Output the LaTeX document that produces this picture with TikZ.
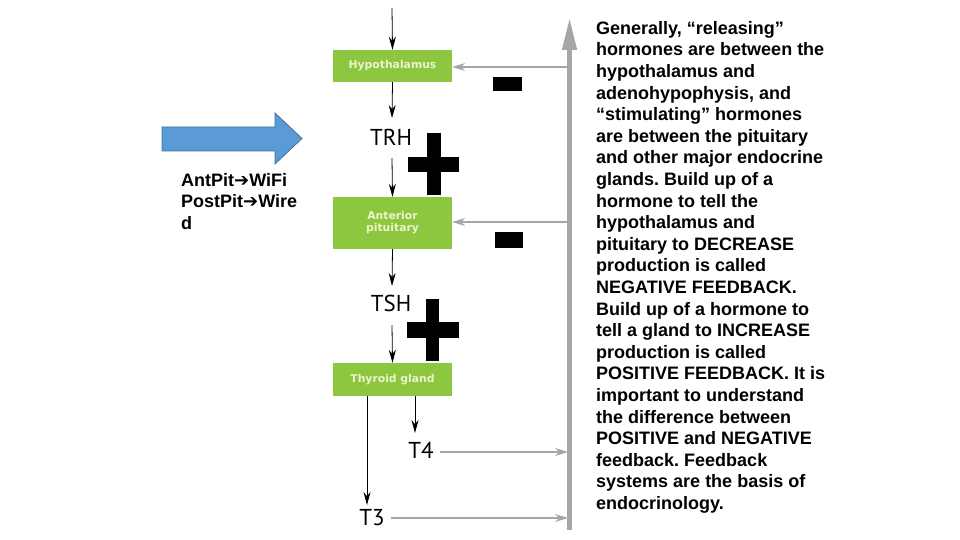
\documentclass[tikz,border=0pt]{standalone}
\usepackage{fontspec}
\setmainfont{Liberation Sans}
\newfontfamily\boxfont{DejaVu Sans}
\newfontfamily\labfont{PT Sans}
\newfontfamily\symfont{DejaVu Sans}
\usetikzlibrary{arrows.meta}
\definecolor{boxgreen}{RGB}{141,198,63}
\definecolor{boxtext}{RGB}{236,243,205}
\definecolor{fbgray}{RGB}{166,166,166}
\definecolor{bigblue}{RGB}{91,155,213}
\definecolor{bigblueedge}{RGB}{65,113,156}
\tikzset{
  gland/.style={fill=boxgreen, draw=none, minimum width=119pt, text=boxtext,
    font=\boxfont\bfseries\fontsize{10.8}{13}\selectfont, align=center, inner sep=0pt},
  hormone/.style={font=\labfont\fontsize{23}{26}\selectfont, inner sep=0pt},
  flow/.style={draw=black, line width=0.8pt, -{Stealth[length=13pt,width=7pt]}},
  fback/.style={draw=fbgray, line width=1.3pt, -{Stealth[length=13pt,width=8pt]}},
  signbar/.style={fill=black, draw=none},
  bodytext/.style={font=\frenchspacing\bfseries\fontsize{18}{21.6}\selectfont, align=left, inner sep=0pt, anchor=north west}
}
\begin{document}
\begin{tikzpicture}[x=1pt,y=-1pt]
\useasboundingbox[fill=white] (0,0) rectangle (960,540);

% glands
\node[gland, minimum height=32pt] (hyp) at (392.5,66) {Hypothalamus};
\node[gland, minimum height=52pt] (ant) at (392.5,223) {Anterior\\[-1pt]pituitary};
\node[gland, minimum height=33pt] (thy) at (392.5,379.5) {Thyroid gland};

% hormone labels
\node[hormone] (trh) at (391,137) {TRH};
\node[hormone] (tsh) at (391,303) {TSH};
\node[hormone] (t4) at (421,450) {T4};
\node[hormone] (t3) at (372,518) {T3};

% input coordinates
\coordinate (top) at (392,8);
\coordinate (trhtop) at (392,118);
\coordinate (trhbot) at (392,158);
\coordinate (tshtop) at (392,286);
\coordinate (tshbot) at (392,325);

\draw[flow] (top) -- (hyp.north);
\draw[flow] (hyp.south) -- (trhtop);
\draw[flow] (trhbot) -- (ant.north);
\draw[flow] (ant.south) -- (tshtop);
\draw[flow] (tshbot) -- (thy.north);
\coordinate (t4s) at (415,396);
\coordinate (t4e) at (415,433);
\coordinate (t3s) at (367,396);
\coordinate (t3e) at (367,505);
\draw[flow] (t4s) -- (t4e);
\draw[flow] (t3s) -- (t3e);

% feedback line
\coordinate (fbbot) at (569.5,530);
\coordinate (fbtop) at (569.5,18);
\draw[draw=fbgray, line width=4.5pt, -{Triangle[length=32pt,width=14pt]}] (fbbot) -- (fbtop);
\coordinate (fbhyp) at (568,67);
\coordinate (fbant) at (568,222);
\coordinate (fbt4) at (568,452);
\coordinate (fbt3) at (568,518);
\draw[fback] (fbhyp) -- (hyp.east |- fbhyp);
\draw[fback] (fbant) -- (ant.east |- fbant);
\draw[fback] (t4.east |- fbt4) ++(6,0) -- (fbt4);
\draw[fback] (t3.east |- fbt3) ++(6,0) -- (fbt3);

% minus signs
\fill[signbar] (493,77) rectangle (522,91);
\fill[signbar] (495,232) rectangle (523,248);
% plus signs
\fill[signbar] (427,133) rectangle (441,195);
\fill[signbar] (408,157) rectangle (459,172);
\fill[signbar] (426,299) rectangle (439,361);
\fill[signbar] (407,322) rectangle (459,338);

% blue arrow
\draw[fill=bigblue, draw=bigblueedge, line width=0.8pt]
  (162,127) -- (275,127) -- (275,113) -- (302,138.5) -- (275,164) -- (275,151) -- (162,151) -- cycle;

% left text
\node[bodytext] (lefttext) at (181,173) {AntPit{\symfont\bfseries ➔}WiFi\\PostPit{\symfont\bfseries ➔}Wire\\d};

% right text
\node[bodytext] (righttext) at (596,21) {Generally, “releasing”\\
hormones are between the\\
hypothalamus and\\
adenohypophysis, and\\
“stimulating” hormones\\
are between the pituitary\\
and other major endocrine\\
glands. Build up of a\\
hormone to tell the\\
hypothalamus and\\
pituitary to DECREASE\\
production is called\\
NEGATIVE FEEDBACK.\\
Build up of a hormone to\\
tell a gland to INCREASE\\
production is called\\
POSITIVE FEEDBACK. It is\\
important to understand\\
the difference between\\
POSITIVE and NEGATIVE\\
feedback. Feedback\\
systems are the basis of\\
endocrinology.};
\end{tikzpicture}
\end{document}
